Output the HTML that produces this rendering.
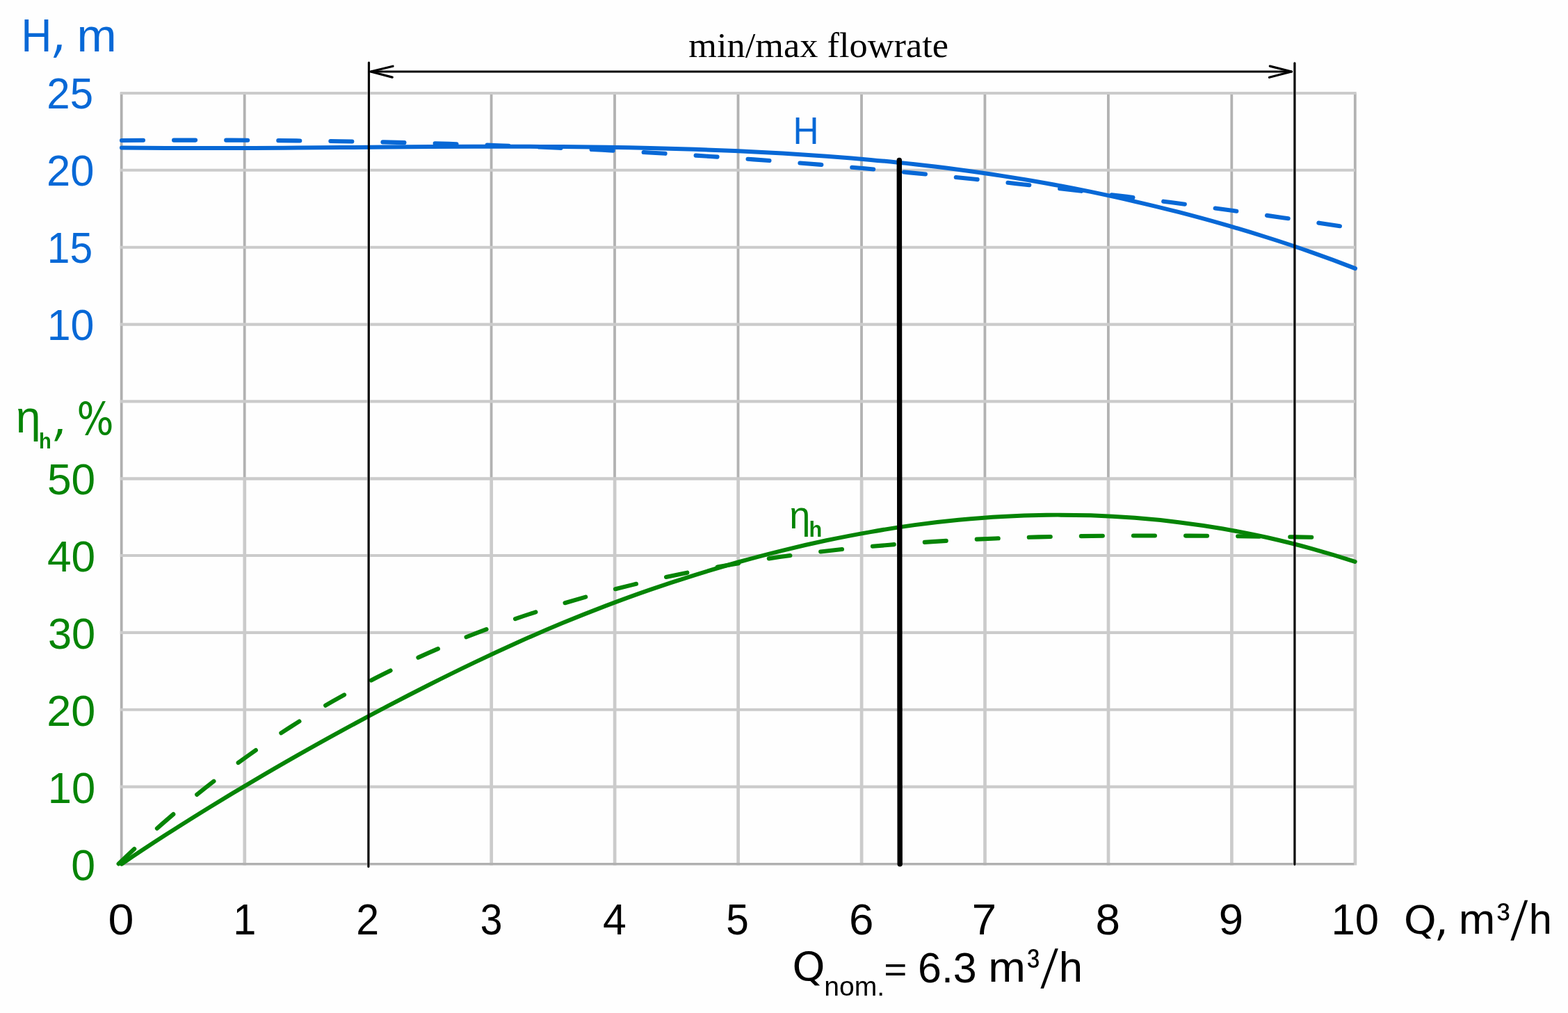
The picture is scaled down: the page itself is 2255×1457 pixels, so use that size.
<!DOCTYPE html>
<html lang="en">
<head>
<meta charset="utf-8">
<title>Pump characteristic curves</title>
<style>
html,body{margin:0;padding:0;background:#fefefe;}
body{width:2255px;height:1457px;overflow:hidden;}
svg{display:block;}
text{white-space:pre;}
.s{font-family:'Liberation Sans', sans-serif;}
.r{font-family:'Liberation Serif', serif;}
.d{font-family:"DejaVu Sans", "Liberation Sans", sans-serif;}
</style>
</head>
<body>
<svg width="2255" height="1457" viewBox="0 0 2255 1457" role="img" aria-label="Pump head H and hydraulic efficiency versus flow rate Q">
<rect width="2255" height="1457" fill="#fefefe"/>
<g fill="none">
<path stroke="#cbcbcb" stroke-width="4.7" d="M351.8 688.2V1244.4M706.7 688.2V1244.4M884.1 688.2V1244.4M1061.6 688.2V1244.4M1239.1 688.2V1244.4M1416.5 688.2V1244.4M1594.0 688.2V1244.4M1771.4 688.2V1244.4M1948.9 688.2V1244.4"/>
<path stroke="#b2b2b2" stroke-width="3.8" d="M351.7 134.0V688.2M706.6 134.0V688.2M884.0 134.0V688.2M1061.5 134.0V688.2M1239.0 134.0V688.2M1416.4 134.0V688.2M1593.9 134.0V688.2M1771.3 134.0V688.2M1948.8 134.0V688.2"/>
<path stroke="#b0b0b0" stroke-width="3.8" d="M174.7 132.8V1244.6"/>
<path stroke="#cbcbcb" stroke-width="4.1" d="M172.8 134.0H1950.7M172.8 244.8H1948.8M172.8 355.7H1948.8M172.8 466.6H1948.8M172.8 577.4H1948.8"/>
<path stroke="#cbcbcb" stroke-width="4.6" d="M172.8 688.5H1948.8"/>
<path stroke="#cbcbcb" stroke-width="4.1" d="M172.8 799.0H1948.8M172.8 909.9H1948.8M172.8 1020.7H1948.8M172.8 1131.6H1948.8"/>
<path stroke="#b0b0b0" stroke-width="3.5" d="M172.8 1242.7H1947.2"/>
</g>
<path fill="none" stroke="#fefefe" stroke-opacity="0.7" stroke-width="4.4" d="M530.5 132L529.9 1245M1861.9 132V1245"/>
<g fill="none" stroke-linecap="round" stroke-linejoin="round">
<path stroke="#0768d6" stroke-width="6.1" stroke-dasharray="31 44.1" d="M175.0 202.0C196.0 201.8 216.9 201.7 237.9 201.7C258.8 201.6 279.8 201.6 300.7 201.6C321.7 201.6 342.6 201.7 363.6 201.8C384.5 202.0 405.5 202.1 426.4 202.4C447.4 202.6 468.3 202.9 489.3 203.2C510.2 203.6 531.2 204.0 552.1 204.4C573.1 204.9 594.0 205.4 615.0 205.9C636.0 206.5 656.9 207.2 677.9 207.9C698.8 208.5 719.8 209.3 740.7 210.1C761.7 210.9 782.6 211.8 803.6 212.8C824.5 213.7 845.5 214.7 866.4 215.8C887.4 216.9 908.3 218.0 929.3 219.2C950.2 220.4 971.2 221.7 992.1 223.1C1013.1 224.4 1034.0 225.8 1055.0 227.3C1076.0 228.7 1096.9 230.3 1117.9 231.9C1138.8 233.5 1159.8 235.2 1180.7 236.9C1201.7 238.7 1222.6 240.5 1243.6 242.3C1264.5 244.2 1285.5 246.1 1306.4 248.1C1327.4 250.2 1348.3 252.2 1369.3 254.4C1390.2 256.5 1411.2 258.7 1432.1 260.9C1453.1 263.2 1474.0 265.5 1495.0 267.9C1516.0 270.3 1536.9 272.7 1557.9 275.2C1578.8 277.8 1599.8 280.3 1620.7 282.9C1641.7 285.6 1662.6 288.3 1683.6 291.0C1704.5 293.7 1725.5 296.5 1746.4 299.4C1767.4 302.2 1788.3 305.1 1809.3 308.1C1830.2 311.0 1851.2 314.0 1872.1 317.1C1893.1 320.1 1914.0 323.2 1935.0 326.4"/>
<path stroke="#0768d6" stroke-width="6" d="M175.0 212.4C196.1 212.6 217.2 212.8 238.4 212.9C259.5 213.1 280.6 213.1 301.7 213.1C322.8 213.1 344.0 213.0 365.1 212.9C386.2 212.9 407.3 212.7 428.4 212.6C449.5 212.4 470.7 212.2 491.8 212.1C512.9 211.9 534.0 211.7 555.1 211.5C576.3 211.4 597.4 211.2 618.5 211.1C639.6 211.0 660.7 210.9 681.9 210.8C703.0 210.7 724.1 210.7 745.2 210.8C766.3 210.8 787.5 210.9 808.6 211.1C829.7 211.2 850.8 211.4 871.9 211.8C893.0 212.1 914.2 212.5 935.3 213.0C956.4 213.5 977.5 214.1 998.6 214.8C1019.8 215.5 1040.9 216.3 1062.0 217.3C1083.1 218.2 1104.2 219.3 1125.4 220.5C1146.5 221.8 1167.6 223.2 1188.7 224.7C1209.8 226.3 1231.0 228.0 1252.1 229.9C1273.2 231.8 1294.3 234.0 1315.4 236.3C1336.5 238.6 1357.7 241.2 1378.8 244.0C1399.9 246.8 1421.0 249.8 1442.1 253.1C1463.3 256.4 1484.4 259.9 1505.5 263.7C1526.6 267.5 1547.7 271.6 1568.9 275.9C1590.0 280.3 1611.1 284.9 1632.2 289.8C1653.3 294.6 1674.5 299.8 1695.6 305.2C1716.7 310.7 1737.8 316.4 1758.9 322.4C1780.0 328.4 1801.2 334.8 1822.3 341.5C1843.4 348.1 1864.5 355.2 1885.6 362.6C1906.8 370.0 1927.9 377.8 1949.0 386.1"/>
<path stroke="#058405" stroke-width="6.1" stroke-dasharray="31 44.1" d="M170.6 1242.4C191.1 1222.7 211.7 1203.9 232.2 1185.9C252.7 1167.9 273.2 1150.7 293.8 1134.4C314.3 1118.1 334.8 1102.6 355.4 1087.9C375.9 1073.2 396.4 1059.3 416.9 1046.1C437.5 1032.9 458.0 1020.5 478.5 1008.7C499.1 996.9 519.6 985.8 540.1 975.3C560.6 964.8 581.2 954.9 601.7 945.6C622.2 936.3 642.8 927.5 663.3 919.2C683.8 910.9 704.3 903.2 724.9 895.8C745.4 888.5 765.9 881.6 786.5 875.2C807.0 868.7 827.5 862.7 848.0 857.0C868.6 851.3 889.1 846.0 909.6 841.1C930.2 836.1 950.7 831.5 971.2 827.2C991.7 822.9 1012.3 818.9 1032.8 815.3C1053.3 811.6 1073.9 808.2 1094.4 805.1C1114.9 801.9 1135.4 799.1 1156.0 796.5C1176.5 793.9 1197.0 791.5 1217.6 789.4C1238.1 787.3 1258.6 785.4 1279.1 783.7C1299.7 782.0 1320.2 780.5 1340.7 779.1C1361.3 777.8 1381.8 776.7 1402.3 775.7C1422.8 774.8 1443.4 773.9 1463.9 773.3C1484.4 772.6 1505.0 772.1 1525.5 771.7C1546.0 771.2 1566.5 771.0 1587.1 770.8C1607.6 770.6 1628.1 770.5 1648.7 770.5C1669.2 770.4 1689.7 770.5 1710.2 770.6C1730.8 770.8 1751.3 770.9 1771.8 771.2C1792.4 771.4 1812.9 771.7 1833.4 771.9C1853.9 772.2 1874.5 772.5 1895.0 772.9"/>
<path stroke="#058405" stroke-width="6" d="M174.9 1242.7C196.0 1228.3 217.1 1214.4 238.2 1200.8C259.4 1187.2 280.5 1174.0 301.6 1161.0C322.7 1148.0 343.8 1135.3 365.0 1122.9C386.1 1110.4 407.2 1098.2 428.3 1086.2C449.4 1074.2 470.5 1062.4 491.6 1050.9C512.8 1039.3 533.9 1028.0 555.0 1016.9C576.1 1005.8 597.2 994.9 618.4 984.2C639.5 973.6 660.6 963.2 681.7 953.1C702.8 943.0 723.9 933.2 745.0 923.7C766.2 914.2 787.3 905.1 808.4 896.3C829.5 887.6 850.6 879.2 871.8 871.1C892.9 863.1 914.0 855.4 935.1 848.1C956.2 840.8 977.3 833.9 998.5 827.3C1019.6 820.7 1040.7 814.4 1061.8 808.5C1082.9 802.6 1104.0 797.0 1125.2 791.8C1146.3 786.6 1167.4 781.8 1188.5 777.3C1209.6 772.9 1230.7 768.8 1251.9 765.1C1273.0 761.3 1294.1 758.0 1315.2 755.1C1336.3 752.2 1357.4 749.7 1378.6 747.7C1399.7 745.7 1420.8 744.0 1441.9 742.9C1463.0 741.7 1484.1 741.0 1505.3 740.7C1526.4 740.5 1547.5 740.7 1568.6 741.3C1589.7 742.0 1610.8 743.2 1632.0 744.8C1653.1 746.4 1674.2 748.5 1695.3 751.2C1716.4 753.8 1737.5 756.9 1758.7 760.5C1779.8 764.2 1800.9 768.3 1822.0 773.0C1843.1 777.8 1864.2 783.0 1885.4 788.8C1906.5 794.6 1927.6 801.0 1948.7 807.9"/>
</g>
<g fill="none" stroke-linecap="round" stroke-linejoin="round">
<path stroke="#000" stroke-width="3.2" d="M530.5 90.2L529.9 1246.4M1861.9 90.8V1243.3M534 103H1857.5"/>
<path stroke="#000" stroke-width="3.2" d="M565 95.2L533 103L564.2 111.1M1826.3 95.1L1857.5 103L1825.5 111.3"/>
<path stroke="#000" stroke-width="7.4" d="M1293.3 230.5L1294.2 1242.8"/>
</g>
<g aria-label="Flow range annotation">
<text class="r" transform="translate(990.35 81.80) scale(1.0472 1)" font-size="50">min/max flowrate</text>
</g>
<g aria-label="Head axis title">
<text class="s" transform="translate(30.40 73.50) scale(0.9189 1)" font-size="66" fill="#0768d6">H</text>
<text class="d" transform="matrix(0.9500 0 -0.1926 1.1809 73.43 74.45)" font-size="66" fill="#0768d6">, </text>
<text class="s" transform="translate(110.49 73.50) scale(1.0403 1)" font-size="66" fill="#0768d6">m</text>
</g>
<g aria-label="Head axis ticks">
<text class="s" transform="translate(67.32 156.40) scale(0.9594 1)" font-size="62.5" fill="#0768d6">25</text>
<text class="s" transform="translate(67.05 267.30) scale(0.9844 1)" font-size="62.5" fill="#0768d6">20</text>
<text class="s" transform="translate(67.81 378.20) scale(0.9401 1)" font-size="62.5" fill="#0768d6">15</text>
<text class="s" transform="translate(67.65 489.20) scale(0.9754 1)" font-size="62.5" fill="#0768d6">10</text>
</g>
<g aria-label="Head curve label">
<text class="s" transform="translate(1140.38 207.00) scale(0.9261 1)" font-size="55.4" fill="#0768d6">H</text>
</g>
<g aria-label="Efficiency axis title">
<text class="s" transform="translate(22.70 621.90) scale(0.9907 1)" font-size="65" fill="#058405">η</text>
<text class="s" transform="translate(56.10 644.50) scale(0.9409 1)" font-size="31" font-weight="bold" fill="#058405">h</text>
<text class="d" transform="matrix(0.9500 0 -0.1809 1.1298 74.84 626.24)" font-size="65" fill="#058405">, </text>
<text class="d" transform="matrix(0.9308 0 0.0000 1.0644 110.55 625.29)" font-size="60" fill="#058405">%</text>
</g>
<g aria-label="Efficiency axis ticks">
<text class="s" transform="translate(67.94 711.40) scale(0.9964 1)" font-size="62.5" fill="#058405">50</text>
<text class="s" transform="translate(67.97 822.20) scale(0.9959 1)" font-size="62.5" fill="#058405">40</text>
<text class="s" transform="translate(68.91 933.00) scale(0.9820 1)" font-size="62.5" fill="#058405">30</text>
<text class="s" transform="translate(67.18 1044.00) scale(1.0078 1)" font-size="62.5" fill="#058405">20</text>
<text class="s" transform="translate(68.70 1154.80) scale(0.9850 1)" font-size="62.5" fill="#058405">10</text>
<text class="s" transform="translate(102.26 1265.60) scale(1.0033 1)" font-size="62.5" fill="#058405">0</text>
</g>
<g aria-label="Efficiency curve label">
<text class="s" transform="translate(1135.15 760.10) scale(0.9833 1)" font-size="55" fill="#058405">η</text>
<text class="s" transform="translate(1163.59 772.10) scale(0.9886 1)" font-size="31" font-weight="bold" fill="#058405">h</text>
</g>
<g aria-label="Flow axis ticks">
<text class="s" transform="translate(155.62 1343.80) scale(1.0633 1)" font-size="62.5">0</text>
<text class="s" transform="translate(335.14 1343.80) scale(0.9556 1)" font-size="62.5">1</text>
<text class="s" transform="translate(512.36 1343.80) scale(0.9453 1)" font-size="62.5">2</text>
<text class="s" transform="translate(690.87 1343.80) scale(0.9135 1)" font-size="62.5">3</text>
<text class="s" transform="translate(867.10 1343.80) scale(0.9726 1)" font-size="62.5">4</text>
<text class="s" transform="translate(1044.20 1343.80) scale(0.9375 1)" font-size="62.5">5</text>
<text class="s" transform="translate(1221.00 1343.80) scale(1.0186 1)" font-size="62.5">6</text>
<text class="s" transform="translate(1397.71 1343.80) scale(1.0165 1)" font-size="62.5">7</text>
<text class="s" transform="translate(1575.48 1343.80) scale(1.0193 1)" font-size="62.5">8</text>
<text class="s" transform="translate(1752.65 1343.80) scale(1.0151 1)" font-size="62.5">9</text>
<text class="s" transform="translate(1914.50 1343.80) scale(0.9866 1)" font-size="62.5">10</text>
</g>
<g aria-label="Flow axis title">
<text class="d" transform="matrix(1.0308 0 0.0000 0.9656 2018.76 1341.92)" font-size="58">Q</text>
<text class="d" transform="matrix(0.9500 0 -0.1205 1.1045 2063.51 1344.97)" font-size="61">, </text>
<text class="s" transform="translate(2097.87 1343.20) scale(1.0336 1)" font-size="61">m</text>
<text class="s" transform="matrix(0.9222 0 0.0000 0.9885 2152.68 1339.84)" font-size="61">³</text>
<text class="s" transform="matrix(0.9500 0 -0.1959 1.2940 2172.53 1351.84)" font-size="61">/</text>
<text class="s" transform="translate(2198.76 1343.20) scale(0.9779 1)" font-size="61">h</text>
</g>
<g aria-label="Nominal flow">
<text class="d" transform="matrix(1.0385 0 0.0000 0.9715 1139.34 1411.18)" font-size="58">Q</text>
<text class="s" transform="translate(1185.16 1431.60) scale(1.0289 1)" font-size="38">nom.</text>
<text class="s" transform="matrix(0.9303 0 0.0000 0.8288 1271.21 1410.56)" font-size="61">= </text>
<text class="s" transform="translate(1320.00 1412.70) scale(0.9987 1)" font-size="61">6.3 </text>
<text class="s" transform="translate(1421.17 1412.40) scale(1.0570 1)" font-size="61">m</text>
<text class="s" transform="matrix(0.8722 0 0.0000 1.0192 1477.13 1409.45)" font-size="61">³</text>
<text class="s" transform="matrix(0.9500 0 -0.2093 1.2873 1496.54 1420.94)" font-size="61">/</text>
<text class="s" transform="translate(1522.63 1412.40) scale(1.0091 1)" font-size="61">h</text>
</g>
</svg>
</body>
</html>
